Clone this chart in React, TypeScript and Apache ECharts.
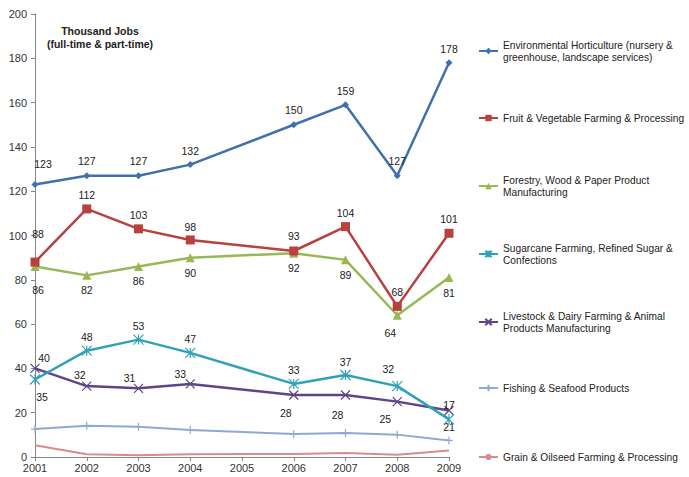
import React, { useEffect, useRef } from "react";
import * as echarts from "echarts";

const years = ["2001", "2002", "2003", "2004", "2005", "2006", "2007", "2008", "2009"];
const yTicksMax = 200;

const seriesNames = [
  "Environmental Horticulture (nursery & greenhouse, landscape services)",
  "Fruit & Vegetable Farming & Processing",
  "Forestry, Wood & Paper Product Manufacturing",
  "Sugarcane Farming, Refined Sugar & Confections",
  "Livestock & Dairy Farming & Animal Products Manufacturing",
  "Fishing & Seafood Products",
  "Grain & Oilseed Farming & Processing",
];
const legendTexts = [
  "Environmental Horticulture (nursery &\ngreenhouse, landscape services)",
  "Fruit & Vegetable Farming & Processing",
  "Forestry, Wood & Paper Product\nManufacturing",
  "Sugarcane Farming, Refined Sugar &\nConfections",
  "Livestock & Dairy Farming & Animal\nProducts Manufacturing",
  "Fishing & Seafood Products",
  "Grain & Oilseed Farming & Processing",
];

const envValues = [123, 127, 127, 132, null, 150, 159, 127, 178];
const fruitValues = [88, 112, 103, 98, null, 93, 104, 68, 101];
const forestryValues = [86, 82, 86, 90, null, 92, 89, 64, 81];
const sugarValues = [35, 48, 53, 47, null, 33, 37, 32, 17];
const livestockValues = [40, 32, 31, 33, null, 28, 28, 25, 21];
const fishingValues = [12.6, 14.1, 13.7, 12.2, null, 10.4, 10.8, 10.1, 7.5];
const grainValues = [5.3, 1.2, 0.8, 1.2, null, 1.4, 1.8, 1.0, 2.9];

// label offsets (style only)
const envLabelOff = [[8, -21], [0, -15], [0, -15], [0, -14], null, [0, -15], [0, -14], [0, -15], [0, -14]];
const fruitLabelOff = [[3, -28], [0, -14], [0, -14], [0, -13], null, [0, -15], [0, -14], [0, -14], [0, -14]];
const forestryLabelOff = [[3, 23], [0, 15], [0, 14], [0, 15], null, [0, 15], [0, 15], [-7, 18], [0, 15]];
const sugarLabelOff = [[7, 18], [0, -14], [0, -14], [0, -14], null, [0, -14], [0, -13], [-9, -17], [0, -14]];
const livestockLabelOff = [[9, -10], [-7, -11], [-9, -10], [-10, -10], null, [-8, 18], [-8, 20], [-12, 17], [0, 17]];

const colors = ["#4170AC", "#B8413E", "#97B955", "#2FA2B8", "#5D4586", "#8EA9D2", "#D98A8C"];
const FONT = "Liberation Sans, Arial, sans-serif";

const asterisk = "path://M0,0L10,10M0,10L10,0M5,0L5,10";
const cross = "path://M0,0L10,10M0,10L10,0";
const plus = "path://M5,0L5,10M0,5L10,5";

function buildData(values: (number | null)[], offs: (number[] | null)[] | null) {
  return values.map((v, i) => {
    if (v === null) return null;
    if (!offs) return v;
    return { value: v, label: { offset: offs[i] } };
  });
}

export default function App() {
  const ref = useRef<HTMLDivElement>(null);
  useEffect(() => {
    if (!ref.current) return;
    const chart = echarts.init(ref.current, null, { renderer: "svg" });
    const symbols = ["diamond", "rect", "triangle", asterisk, cross, plus, "none"];
    const sizes = [7, 9, 9, 10, 9, 8, 0];
    const widths = [2.5, 2.5, 2.5, 2.5, 2.5, 2, 2];
    const valueSets = [envValues, fruitValues, forestryValues, sugarValues, livestockValues, fishingValues, grainValues];
    const offSets = [envLabelOff, fruitLabelOff, forestryLabelOff, sugarLabelOff, livestockLabelOff, null, null];
    const strokeSym = [false, false, false, true, true, true, false];

    const series = seriesNames.map((name, k) => ({
      name,
      type: "line",
      data: buildData(valueSets[k], offSets[k] as any),
      connectNulls: true,
      symbol: symbols[k],
      symbolSize: sizes[k],
      showSymbol: k !== 6,
      lineStyle: { color: colors[k], width: widths[k] },
      itemStyle: strokeSym[k]
        ? { color: colors[k], borderColor: colors[k], borderWidth: 1.2 }
        : { color: colors[k], borderWidth: 0 },
      label: {
        show: offSets[k] !== null,
        position: "inside",
        color: "#222",
        fontSize: 10.5,
        fontFamily: FONT,
      },
      z: 10 - k,
    }));

    const legendTops = [33, 112, 168, 236, 304, 382, 451];
    const legend = seriesNames.map((name, k) => {
      const two = legendTexts[k].includes("\n");
      return {
        data: [name],
        left: 478,
        top: legendTops[k],
        orient: "vertical",
        padding: 0,
        itemWidth: 19,
        itemHeight: 8,
        itemGap: 0,
        selectedMode: false,
        formatter: () => legendTexts[k],
        textStyle: {
          fontSize: 10.2,
          color: "#222",
          fontFamily: FONT,
          lineHeight: 12,
          padding: two ? [12, 0, 0, 0] : 0,
        },
      };
    });

    chart.setOption({
      animation: false,
      backgroundColor: "#fff",
      grid: { left: 35, right: 240, top: 14, bottom: 20 },
      xAxis: {
        type: "category",
        data: years,
        boundaryGap: false,
        axisLine: { lineStyle: { color: "#868686", width: 1 } },
        axisTick: { show: true, length: 4, lineStyle: { color: "#868686" } },
        axisLabel: { color: "#333", fontSize: 11, fontFamily: FONT, margin: 5 },
        splitLine: { show: false },
      },
      yAxis: {
        type: "value",
        min: 0,
        max: yTicksMax,
        interval: 20,
        axisLine: { show: true, lineStyle: { color: "#868686", width: 1 } },
        axisTick: { show: true, length: 4, lineStyle: { color: "#868686" } },
        axisLabel: { color: "#333", fontSize: 11, fontFamily: FONT, margin: 8 },
        splitLine: { show: false },
      },
      legend,
      graphic: [
        {
          type: "text",
          x: 100,
          y: 24,
          style: {
            text: "Thousand Jobs\n(full-time & part-time)",
            font: "bold 10.5px Liberation Sans, Arial, sans-serif",
            fill: "#222",
            align: "center",
            verticalAlign: "top",
            lineHeight: 13,
          },
        },
      ],
      series,
    });
    return () => chart.dispose();
  }, []);
  return (
    <div
      ref={ref}
      style={{ position: "fixed", left: 0, top: 0, width: 689, height: 477 }}
    />
  );
}
